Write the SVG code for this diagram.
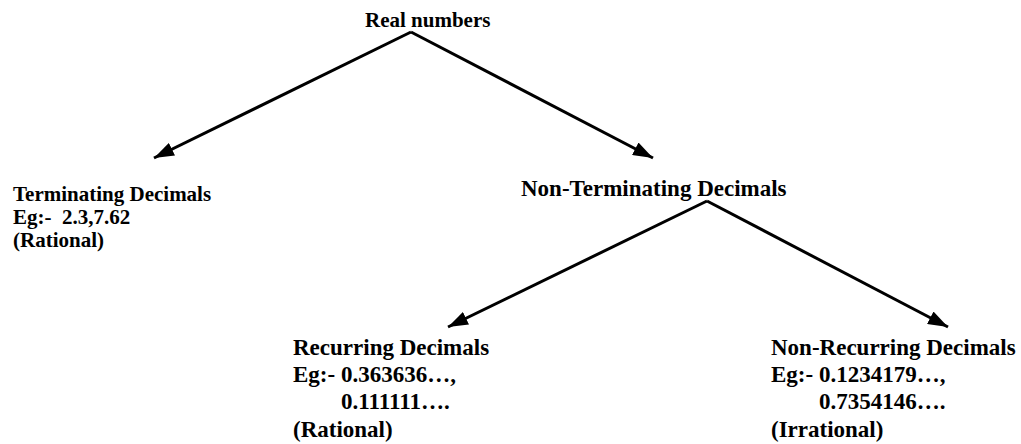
<svg xmlns="http://www.w3.org/2000/svg" width="1021" height="444" viewBox="0 0 1021 444">
  <style>
    text { font-family: "Liberation Serif", "Times New Roman", serif; font-weight: bold; font-size: 21px; fill: #000; white-space: pre; }
    .big { font-size: 23px; }
    .link { stroke: #000; stroke-width: 3; fill: none; marker-end: url(#head); }
  </style>
  <defs>
    <marker id="head" viewBox="0 0 20 14" refX="20" refY="7" markerWidth="20" markerHeight="14" markerUnits="userSpaceOnUse" orient="auto">
      <path d="M0,0 L20,7 L0,14 z" fill="#000"/>
    </marker>
  </defs>
  <rect width="1021" height="444" fill="#fff"/>

  <g id="connectors">
    <path class="link" d="M411,32 L154,158"/>
    <path class="link" d="M411,32 L653,158"/>
    <path class="link" d="M707,201 L448,327"/>
    <path class="link" d="M707,201 L948,327"/>
  </g>

  <g id="real-numbers">
    <text x="365" y="27">Real numbers</text>
  </g>

  <g id="terminating">
    <text x="13" y="201">Terminating Decimals</text>
    <text x="13" y="224">Eg:-  2.3,7.62</text>
    <text x="13" y="247">(Rational)</text>
  </g>

  <g id="non-terminating">
    <text class="big" x="521" y="196">Non-Terminating Decimals</text>
  </g>

  <g id="recurring">
    <text class="big" x="293" y="355">Recurring Decimals</text>
    <text class="big" x="293" y="382">Eg:- 0.363636…,</text>
    <text class="big" x="341" y="409">0.111111….</text>
    <text class="big" x="293" y="437">(Rational)</text>
  </g>

  <g id="non-recurring">
    <text class="big" x="771" y="355">Non-Recurring Decimals</text>
    <text class="big" x="771" y="382">Eg:- 0.1234179…,</text>
    <text class="big" x="819" y="409">0.7354146….</text>
    <text class="big" x="771" y="437">(Irrational)</text>
  </g>
</svg>
